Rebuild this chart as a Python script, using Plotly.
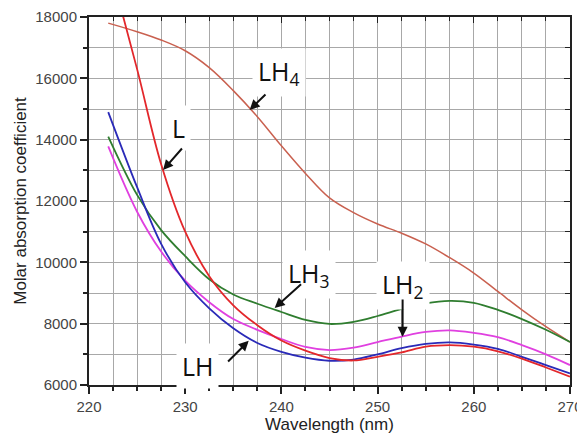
import plotly.graph_objects as go

wl = [222, 225, 227.5, 230, 232.5, 235, 237.5, 240, 242.5, 245, 247.5, 250,
      252.5, 255, 257.5, 260, 262.5, 265, 267.5, 270]

LH4 = [17800, 17520, 17250, 16900, 16350, 15600, 14750, 13800, 12900, 12100, 11620, 11250,
       10950, 10600, 10150, 9650, 9050, 8450, 7900, 7400]
L = [19850, 16300, 13200, 11000, 9550, 8600, 7950, 7450, 7120, 6880, 6800, 6920,
     7060, 7250, 7300, 7250, 7100, 6860, 6570, 6270]
LH = [14900, 12450, 10600, 9350, 8500, 7850, 7370, 7080, 6890, 6790, 6830, 7000,
      7200, 7340, 7390, 7320, 7180, 6920, 6650, 6380]
LH2 = [13780, 11650, 10350, 9400, 8700, 8150, 7800, 7500, 7240, 7140, 7220, 7400,
       7580, 7730, 7780, 7700, 7560, 7300, 7000, 6650]
LH3 = [14100, 12200, 11050, 10200, 9450, 8950, 8650, 8380, 8120, 7990, 8060, 8250,
       8480, 8660, 8740, 8680, 8450, 8150, 7800, 7400]

series = [
    ("LH4", LH4, "#c9604f", 1.5),
    ("LH3", LH3, "#2f7d2f", 1.8),
    ("LH2", LH2, "#e040e0", 1.8),
    ("LH", LH, "#2a2ab8", 1.8),
    ("L", L, "#e3272b", 1.8),
]

fig = go.Figure()
for name, ys, col, w in series:
    fig.add_trace(go.Scatter(x=wl, y=ys, mode="lines", name=name,
                             line=dict(color=col, width=w, shape="spline", smoothing=1.0),
                             showlegend=False))

# invisible trace for mirrored top/right axes
fig.add_trace(go.Scatter(x=[220], y=[6000], xaxis="x2", yaxis="y2", mode="markers",
                         marker=dict(opacity=0), showlegend=False, hoverinfo="skip"))

gridc = "#a8a8a8"
fig.update_layout(
    width=577, height=434,
    margin=dict(l=81, r=15, t=9, b=57, autoexpand=False),
    paper_bgcolor="white", plot_bgcolor="white",
    font=dict(family="Liberation Sans, Arial, sans-serif", color="#333333"),
    xaxis=dict(range=[220, 270], dtick=10, tick0=220, showgrid=True, gridcolor=gridc, gridwidth=1,
               ticks="outside", ticklen=7, tickwidth=1.5, tickcolor="#222", tickformat="d",
               showline=True, linecolor="#222", linewidth=2, zeroline=False, automargin=False,
               tickfont=dict(size=15, color="#444"),
               minor=dict(dtick=2.5, tick0=220, showgrid=True, gridcolor=gridc, gridwidth=1,
                          ticks="outside", ticklen=4, tickcolor="#222"),
               title=dict(text="Wavelength (nm)", font=dict(size=17, color="#222"), standoff=2)),
    yaxis=dict(range=[6000, 18000], dtick=2000, tick0=6000, showgrid=True, gridcolor=gridc, gridwidth=1,
               ticks="outside", ticklen=7, tickwidth=1.5, tickcolor="#222", tickformat="d",
               showline=True, linecolor="#222", linewidth=2, zeroline=False, automargin=False,
               tickfont=dict(size=15, color="#444"),
               minor=dict(dtick=1000, tick0=6000, showgrid=True, gridcolor=gridc, gridwidth=1,
                          ticks="outside", ticklen=4, tickcolor="#222"),
               title=dict(text="Molar absorption coefficient", font=dict(size=17, color="#222"), standoff=4)),
    xaxis2=dict(range=[220, 270], overlaying="x", side="top", showgrid=False, zeroline=False,
                dtick=10, tick0=220, ticks="inside", ticklen=6, tickcolor="#222", automargin=False,
                showticklabels=False, showline=True, linecolor="#222", linewidth=2,
                minor=dict(dtick=2.5, tick0=220, ticks="inside", ticklen=4, tickcolor="#222")),
    yaxis2=dict(range=[6000, 18000], overlaying="y", side="right", showgrid=False, zeroline=False,
                dtick=2000, tick0=6000, ticks="inside", ticklen=6, tickcolor="#222", automargin=False,
                showticklabels=False, showline=True, linecolor="#222", linewidth=2,
                minor=dict(dtick=1000, tick0=6000, ticks="inside", ticklen=5, tickcolor="#222")),
)

lab_font = dict(family="Open Sans, Noto Sans, sans-serif", size=25, color="#111")
labels = [
    ("LH<sub>4</sub>", 239.7, 16180),
    ("L", 229.3, 14380),
    ("LH<sub>3</sub>", 242.9, 9600),
    ("LH<sub>2</sub>", 252.6, 9250),
    ("LH", 231.3, 6620),
]
for t, x, y in labels:
    fig.add_annotation(x=x, y=y, xref="x", yref="y", text=t, showarrow=False,
                       font=lab_font, bgcolor="white", borderpad=5)

arrows = [
    (236.7, 14970, 238.5, 15520),
    (227.7, 13010, 229.8, 13760),
    (239.3, 8510, 242.2, 9330),
    (252.6, 7570, 252.6, 8840),
    (236.6, 7440, 234.3, 6720),
]
for x, y, ax, ay in arrows:
    fig.add_annotation(x=x, y=y, ax=ax, ay=ay, xref="x", yref="y", axref="x", ayref="y",
                       text="", showarrow=True, arrowhead=2, arrowsize=1, arrowwidth=2,
                       arrowcolor="#111")

fig.write_html("out.html")
